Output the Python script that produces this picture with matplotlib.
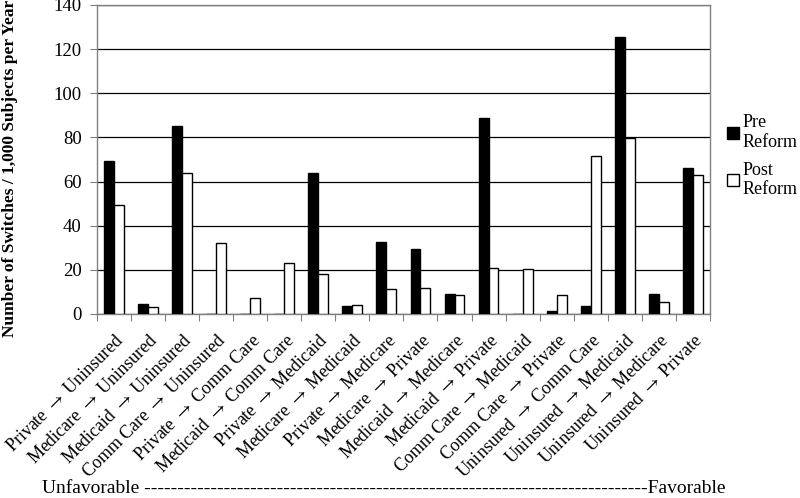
import matplotlib
matplotlib.use("Agg")
import matplotlib.pyplot as plt
import numpy as np
from matplotlib.lines import Line2D

categories = [
    "Private $\\rightarrow$ Uninsured", "Medicare $\\rightarrow$ Uninsured", "Medicaid $\\rightarrow$ Uninsured",
    "Comm Care $\\rightarrow$ Uninsured", "Private $\\rightarrow$ Comm Care", "Medicaid $\\rightarrow$ Comm Care",
    "Private $\\rightarrow$ Medicaid", "Medicare $\\rightarrow$ Medicaid", "Private $\\rightarrow$ Medicare",
    "Medicare $\\rightarrow$ Private", "Medicaid $\\rightarrow$ Medicare", "Medicaid $\\rightarrow$ Private",
    "Comm Care $\\rightarrow$ Medicaid", "Comm Care $\\rightarrow$ Private", "Uninsured $\\rightarrow$ Comm Care",
    "Uninsured $\\rightarrow$ Medicaid", "Uninsured $\\rightarrow$ Medicare", "Uninsured $\\rightarrow$ Private",
]
pre_reform = [69.5, 4.5, 85.0, 0, 0, 0, 64.0, 3.6, 32.8, 29.3, 9.2, 88.7, 0, 1.5, 3.6, 125.4, 9.2, 66.0]
post_reform = [49.6, 3.0, 63.9, 32.3, 7.1, 23.0, 18.1, 3.9, 11.3, 11.8, 8.5, 21.0, 20.3, 8.5, 71.7, 79.7, 5.3, 62.8]
yticks = [0, 20, 40, 60, 80, 100, 120, 140]
series_names = ["Pre\nReform", "Post\nReform"]

plt.rcParams['font.family'] = ['Liberation Serif', 'DejaVu Serif']
plt.rcParams['mathtext.fontset'] = 'stix'

fig = plt.figure(figsize=(8, 4.98), dpi=100)
ax = fig.add_axes([0.121, 0.3695, 0.7665, 0.6205])

x = np.arange(len(categories))
w = 0.29
ax.bar(x - w / 2, pre_reform, width=w, color='black', edgecolor='black', linewidth=1, zorder=3)
ax.bar(x + w / 2, post_reform, width=w, color='white', edgecolor='black', linewidth=1, zorder=3)

ax.set_xlim(-0.5, len(categories) - 0.5)
ax.set_ylim(0, 140)
ax.set_yticks(yticks)
ax.set_yticklabels([str(t) for t in yticks], fontsize=13.5)
ax.yaxis.grid(True, color='black', linewidth=0.9, zorder=0)
ax.set_axisbelow(True)

ax.set_xticks(np.arange(len(categories) + 1) - 0.5, minor=False)
ax.set_xticklabels([])
ax.tick_params(axis='x', direction='out', length=5, color='#808080')
ax.tick_params(axis='y', direction='out', length=5, color='#808080', pad=6)
for s in ax.spines.values():
    s.set_color('#808080')
    s.set_linewidth(1)

for i, lab in enumerate(categories):
    ax.text(i + 0.05, -8, lab, rotation=45, ha='right', va='top',
            rotation_mode='anchor', fontsize=13, transform=ax.transData)

ax.set_ylabel("Number of Switches / 1,000 Subjects per Year", fontsize=12.5,
              fontweight='bold')
ax.yaxis.set_label_coords(-0.128, 0.47)

handles = [
    Line2D([0], [0], marker='s', color='none', markerfacecolor='black',
           markeredgecolor='black', markersize=8),
    Line2D([0], [0], marker='s', color='none', markerfacecolor='white',
           markeredgecolor='black', markersize=8),
]
fig.legend(handles, series_names, loc='upper left', bbox_to_anchor=(0.9, 0.785),
           frameon=False, fontsize=13, handlelength=0.6, handletextpad=0.25,
           labelspacing=0.6, borderaxespad=0)

fig.text(0.052, 0.002, "Unfavorable " + "-" * 76 + "Favorable", fontsize=14,
         ha='left', va='bottom')

fig.savefig("out.png", dpi=100)
